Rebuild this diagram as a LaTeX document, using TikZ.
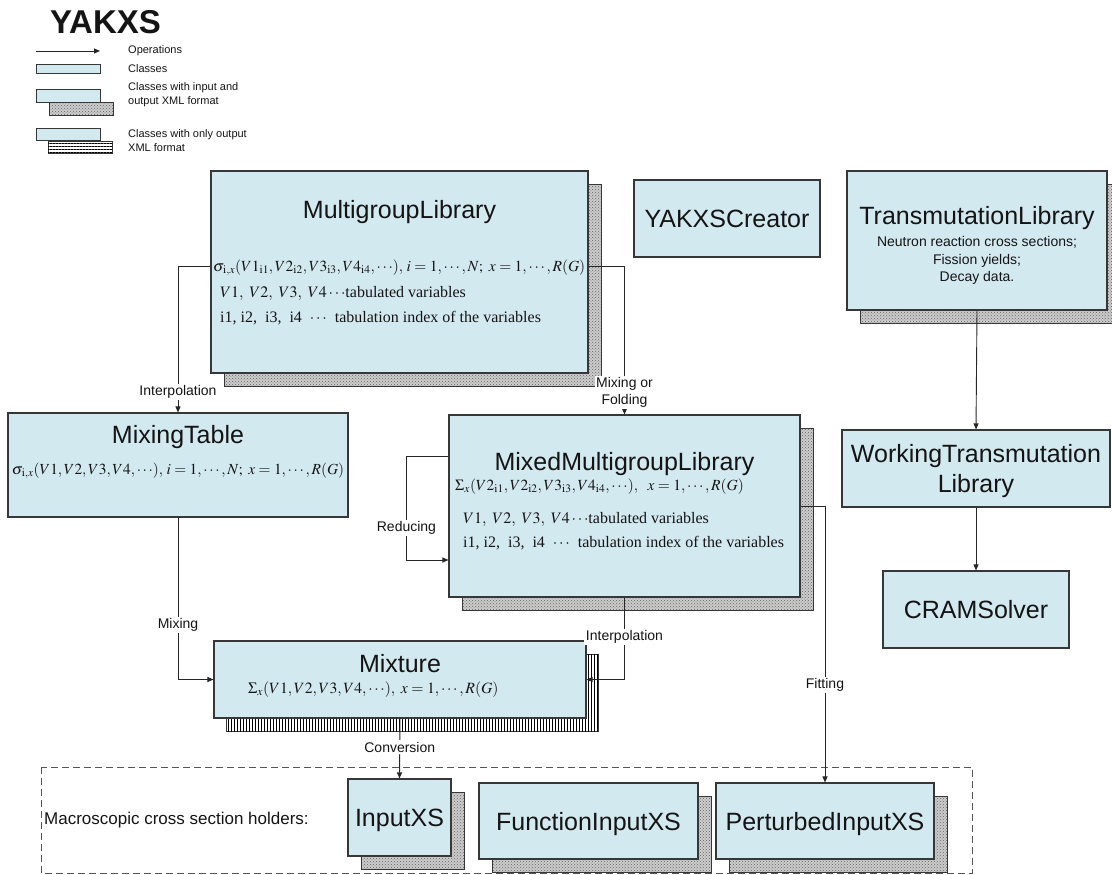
\documentclass[tikz,border=0pt]{standalone}
\usepackage{mathptmx}
\usepackage{fontspec}
\setmainfont{Liberation Serif}
\setsansfont{Liberation Sans}
\usepackage{tikz}
\usetikzlibrary{positioning, calc, arrows.meta, shadows, patterns, patterns.meta}
\definecolor{ykBlue}{RGB}{211, 233, 240}
\definecolor{ykLine}{RGB}{55, 55, 55}
\definecolor{ykText}{RGB}{20, 20, 20}
\definecolor{ykDots}{RGB}{100, 100, 100}
\tikzset{
    base/.style={
        font=\sffamily,
        text=ykText
    },
    cls/.style={
        base,
        rectangle,
        draw=ykLine,
        line width=1.1pt,
        fill=ykBlue,
        inner sep=0pt,
        align=center,
        text height=18pt,
        text depth=0pt,
        font=\sffamily\fontsize{25}{30}\selectfont
    },
    xmlcls/.style={
        cls,
        general shadow={shadow xshift=13pt, shadow yshift=-13pt, fill=gray!40},
        general shadow={shadow xshift=13pt, shadow yshift=-13pt, pattern=crosshatch dots, pattern color=ykDots, draw=ykLine, line width=0.9pt}
    },
    outcls/.style={
        cls,
        general shadow={shadow xshift=12pt, shadow yshift=-13pt, fill=white, draw=ykLine, line width=0.9pt},
        general shadow={shadow xshift=12pt, shadow yshift=-13pt, pattern={#1}, pattern color=black}
    },
    outcls/.default={Lines[angle=90, distance=3pt, line width=0.9pt]},
    ttl/.style={
        base,
        font=\sffamily\fontsize{25}{30}\selectfont,
        inner sep=0pt,
        anchor=base
    },
    eq/.style={
        font=\fontsize{16}{19}\selectfont,
        text=ykText,
        inner sep=0pt,
        anchor=base west
    },
    note/.style={
        base,
        font=\sffamily\fontsize{14}{17}\selectfont,
        inner sep=0pt,
        anchor=base
    },
    lbl/.style={
        base,
        font=\sffamily\fontsize{14}{17}\selectfont,
        fill=white,
        inner sep=1.5pt,
        align=center
    },
    op/.style={
        draw=black!85,
        line width=0.9pt,
        -{Triangle[length=6pt, width=5pt]}
    },
    legtxt/.style={
        base,
        font=\sffamily\fontsize{11}{14}\selectfont,
        anchor=west,
        align=left,
        inner sep=0pt
    },
    holder/.style={
        draw=ykLine!85,
        dash pattern=on 7pt off 4pt,
        line width=0.9pt
    }
}

\begin{document}
\begin{tikzpicture}[x=1pt, y=-1pt]
  \useasboundingbox (0,0) rectangle (1112,875);

  % Legend
  \node[base, font=\sffamily\bfseries\fontsize{33}{36}\selectfont, inner sep=0pt] (yakxs) at (105.5,22.5) {YAKXS};
  \coordinate (legA) at (36,51);
  \coordinate (legB) at (100,51);
  \draw[op] (legA) -- (legB);
  \node[legtxt] (legOp) at (128,51) {Operations};
  \node[cls, text height=0pt, line width=0.9pt, minimum width=64pt, minimum height=9pt] (legCls) at (68,68.5) {};
  \node[legtxt] (legClsTxt) at (128,68.5) {Classes};
  \node[xmlcls, text height=0pt, line width=0.9pt, minimum width=64pt, minimum height=13pt] (legXml) at (68,95.5) {};
  \node[legtxt] (legXmlTxt) at (128,95) {Classes with input and\\output XML format};
  \node[outcls={Lines[angle=0, distance=3pt, line width=0.9pt]}, text height=0pt, line width=0.9pt, minimum width=64pt, minimum height=12pt] (legOut) at (68,134) {};
  \node[legtxt] (legOutTxt) at (128,141) {Classes with only output\\XML format};

  % Holders frame
  \draw[holder] (41,767) rectangle (972,873);
  \node[base, font=\sffamily\fontsize{17}{20}\selectfont, anchor=west, inner sep=0pt] (holdLbl) at (44,820) {Macroscopic cross section holders:};

  % Classes
  \node[xmlcls, minimum width=377pt, minimum height=202pt] (mgl) at (399.5,272) {};
  \node[ttl] (mglTitle) at (399.5,218) {MultigroupLibrary};
  \node[eq, font=\fontsize{15.5}{19}\selectfont] (mglEq) at (213,271) {$\sigma_{\kern0.6pt\mathrm{i},x}(V1_{\mathrm{i1}},V2_{\mathrm{i2}},V3_{\mathrm{i3}},V4_{\mathrm{i4}},\cdots),\,i=1,\cdots,N;\ x=1,\cdots,R(G)$};
  \node[eq] (mglVar) at (220,297) {$V1,\ V2,\ V3,\ V4\cdots$tabulated variables};
  \node[eq] (mglIdx) at (220,322) {i1, i2,\ \ i3,\ \ i4\ \ $\cdots$\ \ tabulation\ index\ of\ the\ variables};

  \node[cls, minimum width=340pt, minimum height=104pt] (mix) at (178,465) {};
  \node[ttl] (mixTitle) at (178,443) {MixingTable};
  \node[eq, anchor=base, font=\fontsize{15.4}{19}\selectfont] (mixEq) at (178,474) {$\sigma_{\kern0.6pt\mathrm{i},x}(V1,V2,V3,V4,\cdots),\,i=1,\cdots,N;\ x=1,\cdots,R(G)$};

  \node[xmlcls, minimum width=351pt, minimum height=182pt] (mml) at (624.5,506) {};
  \node[ttl] (mmlTitle) at (624.5,470) {MixedMultigroupLibrary};
  \node[eq, font=\fontsize{15.5}{19}\selectfont] (mmlEq) at (455,490) {$\Sigma_{x}(V2_{\mathrm{i1}},V2_{\mathrm{i2}},V3_{\mathrm{i3}},V4_{\mathrm{i4}},\cdots),\ \ x=1,\cdots,R(G)$};
  \node[eq] (mmlVar) at (463,523) {$V1,\ V2,\ V3,\ V4\cdots$tabulated variables};
  \node[eq] (mmlIdx) at (463,547) {i1, i2,\ \ i3,\ \ i4\ \ $\cdots$\ \ tabulation\ index\ of\ the\ variables};

  \node[outcls, minimum width=372pt, minimum height=77pt] (mixture) at (400,679.5) {};
  \node[ttl] (mixtureTitle) at (400,672) {Mixture};
  \node[eq, font=\fontsize{15.7}{19}\selectfont] (mixtureEq) at (248,693) {$\Sigma_{x}(V1,V2,V3,V4,\cdots),\ x=1,\cdots,R(G)$};

  \node[cls, minimum width=186pt, minimum height=77pt] (creator) at (727,218.5) {YAKXSCreator};

  \node[xmlcls, minimum width=260pt, minimum height=139pt] (trl) at (977,240.5) {};
  \node[ttl] (trlTitle) at (977,224) {TransmutationLibrary};
  \node[note] (trlXs) at (977,246) {Neutron reaction cross sections;};
  \node[note] (trlFy) at (977,264) {Fission yields;};
  \node[note] (trlDd) at (977,281) {Decay data.};

  \node[cls, text height=48pt, minimum width=268pt, minimum height=77pt] (wtl) at (976,468.5) {WorkingTransmutation\\Library};
  \node[cls, minimum width=186pt, minimum height=77pt] (cram) at (976,609.5) {CRAMSolver};

  \node[xmlcls, minimum width=103pt, minimum height=77pt] (inxs) at (399.5,817.5) {InputXS};
  \node[xmlcls, minimum width=219pt, minimum height=76pt] (fixs) at (588.5,821) {FunctionInputXS};
  \node[xmlcls, minimum width=218pt, minimum height=76pt] (pixs) at (825,821) {PerturbedInputXS};

  % Operations
  \draw[op] ([yshift=6pt]mgl.west) -| node[lbl, pos=0.93] {Interpolation} (mix.north);
  \draw[op] ([yshift=6pt]mgl.east) -| node[lbl, pos=0.925] {Mixing or\\Folding} (mml.north);
  \draw[op] (mix.south) |- node[lbl, pos=0.332] {Mixing} (mixture.west);
  \draw[op] (mml.south) |- node[lbl, pos=0.24] {Interpolation} (mixture.east);
  \draw[op] ([yshift=50pt]mml.west) -- ++(-42,0) |- node[lbl, pos=0.346] {Reducing} ([yshift=-54pt]mml.west);
  \draw[op] (mml.east) -| node[lbl, pos=0.823] {Fitting} (pixs.north);
  \draw[op] (mixture.south) -- node[lbl, pos=0.475] {Conversion} (inxs.north);
  \draw[op] (trl.south) -- (wtl.north);
  \draw[op] (wtl.south) -- (cram.north);
\end{tikzpicture}
\end{document}
